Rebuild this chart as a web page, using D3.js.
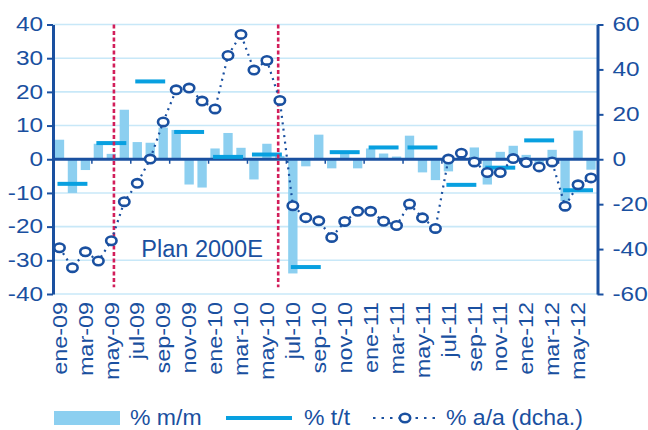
<!DOCTYPE html>
<html>
<head>
<meta charset="utf-8">
<script src="https://cdn.jsdelivr.net/npm/d3@7"></script>
<style>
  html, body { margin: 0; padding: 0; background: #fff; }
  svg { display: block; }
  text { font-family: "Liberation Sans", Arial, sans-serif; }
</style>
</head>
<body>
<svg id="chart" width="648" height="430"></svg>
<script>
// ---- Data ----
const months = ["ene-09","feb-09","mar-09","abr-09","may-09","jun-09","jul-09","ago-09","sep-09","oct-09","nov-09","dic-09",
  "ene-10","feb-10","mar-10","abr-10","may-10","jun-10","jul-10","ago-10","sep-10","oct-10","nov-10","dic-10",
  "ene-11","feb-11","mar-11","abr-11","may-11","jun-11","jul-11","ago-11","sep-11","oct-11","nov-11","dic-11",
  "ene-12","feb-12","mar-12","abr-12","may-12","jun-12"];

// % m/m (bars, left axis)
const mm = [5.8,-10.0,-3.2,4.6,1.6,14.7,5.1,4.9,9.4,8.7,-7.5,-8.4,
  3.2,7.8,3.4,-6.0,4.6,1.0,-33.9,-2.1,7.3,-2.7,1.6,-2.7,
  3.2,1.7,0.8,7.0,-3.9,-6.2,-3.6,1.0,3.5,-7.5,2.2,4.0,
  1.3,-1.5,2.8,-12.4,8.5,-3.1];

// % t/t (quarterly, left axis): first and last month of each quarter
const quarterStart = ["ene-09","abr-09","jul-09","oct-09","ene-10","abr-10","jul-10","oct-10","ene-11","abr-11","jul-11","oct-11","ene-12","abr-12"];
const quarterEnd   = ["mar-09","jun-09","sep-09","dic-09","mar-10","jun-10","sep-10","dic-10","mar-11","jun-11","sep-11","dic-11","mar-12","jun-12"];
const tt = [-7.3,4.8,23.1,8.1,0.7,1.4,-32.0,2.1,3.5,3.5,-7.6,-2.5,5.6,-9.2];

// % a/a (right axis)
const aa = [-39.4,-48.3,-41.2,-45.3,-36.3,-18.9,-10.7,0.1,16.6,30.9,31.7,25.9,
  22.4,46.2,55.6,39.7,44.0,26.2,-20.7,-26.0,-27.4,-34.8,-27.7,-23.2,
  -23.2,-27.6,-29.5,-19.9,-26.1,-30.8,0.1,2.7,-1.2,-5.9,-5.9,0.3,
  -1.5,-3.4,-1.2,-20.9,-11.4,-8.3];

const leftTicks = [-40,-30,-20,-10,0,10,20,30,40];
const rightTicks = [-60,-40,-20,0,20,40,60];
const xLabels = months.filter((d, i) => i % 2 === 0);
const xTickMonths = months.filter((d, i) => i > 0 && i % 3 === 0);

// annotations: vertical dashed lines (month + fraction of step) and label
const markerMonths = ["may-09","jun-10"];
const markerFrac = [0.7, 0.37];
const annotation = { text: "Plan 2000E", month: "dic-09", value: -29 };

const legendItems = ["% m/m", "% t/t", "% a/a (dcha.)"];

// ---- Colors ----
const C = {
  bar: "#8ccff0",
  tt: "#08a0e0",
  dark: "#1a50a0",
  grid: "#c8e8f8",
  red: "#d21e5a"
};

// ---- Layout ----
const L = 53, R = 597.5, T = 24.5, B = 294;

const svg = d3.select("#chart");

function stretch(sel, k) {
  sel.each(function () {
    const w = this.getComputedTextLength();
    this.setAttribute("textLength", w * k);
    this.setAttribute("lengthAdjust", "spacingAndGlyphs");
  });
}

const x = d3.scaleBand().domain(months).range([L, R]).paddingInner(0.28).paddingOuter(0.14);
const step = x.step();
const cx = m => x(m) + x.bandwidth() / 2;
const yL = d3.scaleLinear().domain([-40, 40]).range([B, T]);
const yR = d3.scaleLinear().domain([-60, 60]).range([B, T]);

// gridlines
svg.append("g").selectAll("line").data(leftTicks).join("line")
  .attr("x1", L).attr("x2", R)
  .attr("y1", d => yL(d)).attr("y2", d => yL(d))
  .attr("stroke", C.grid).attr("stroke-width", 1.6);

// bars
svg.append("g").selectAll("rect").data(months).join("rect")
  .attr("x", d => x(d))
  .attr("width", x.bandwidth())
  .attr("y", (d, i) => yL(Math.max(0, mm[i])))
  .attr("height", (d, i) => Math.abs(yL(mm[i]) - yL(0)))
  .attr("fill", C.bar);

// zero line with category ticks
svg.append("line").attr("x1", L).attr("x2", R)
  .attr("y1", yL(0)).attr("y2", yL(0))
  .attr("stroke", C.dark).attr("stroke-width", 3);
svg.append("g").selectAll("line").data(xTickMonths).join("line")
  .attr("x1", d => x(d) - (step - x.bandwidth()) / 2)
  .attr("x2", d => x(d) - (step - x.bandwidth()) / 2)
  .attr("y1", yL(0)).attr("y2", yL(0) + 4.5)
  .attr("stroke", C.dark).attr("stroke-width", 1.5);

// t/t quarterly segments
svg.append("g").selectAll("line").data(tt).join("line")
  .attr("x1", (d, i) => cx(quarterStart[i]))
  .attr("x2", (d, i) => cx(quarterEnd[i]))
  .attr("y1", d => yL(d)).attr("y2", d => yL(d))
  .attr("stroke", C.tt).attr("stroke-width", 4).attr("stroke-linecap", "square");

// red dashed markers
svg.append("g").selectAll("line").data(markerMonths).join("line")
  .attr("x1", (d, i) => x(d) - (step - x.bandwidth()) / 2 + markerFrac[i] * step)
  .attr("x2", (d, i) => x(d) - (step - x.bandwidth()) / 2 + markerFrac[i] * step)
  .attr("y1", yL(40)).attr("y2", yL(-38))
  .attr("stroke", C.red).attr("stroke-width", 2.6).attr("stroke-dasharray", "4,2.5");

// a/a dotted line
const line = d3.line().x((d, i) => cx(months[i])).y(d => yR(d));
svg.append("path").datum(aa)
  .attr("d", line)
  .attr("fill", "none").attr("stroke", C.dark).attr("stroke-width", 2.2)
  .attr("stroke-dasharray", "2,4.5");

svg.append("g").selectAll("ellipse").data(aa).join("ellipse")
  .attr("cx", (d, i) => cx(months[i]))
  .attr("cy", d => yR(d))
  .attr("rx", 5.2).attr("ry", 4.2)
  .attr("fill", "#fff").attr("stroke", C.dark).attr("stroke-width", 2.6);

// annotation text
svg.append("text")
  .attr("x", x(annotation.month) + x.bandwidth() / 2)
  .attr("y", yL(annotation.value))
  .attr("text-anchor", "middle")
  .attr("font-size", 23.5)
  .attr("fill", C.dark)
  .text(annotation.text);

// axes
function styleAxis(g) {
  g.select(".domain").attr("stroke", C.dark).attr("stroke-width", 3);
  g.selectAll(".tick line").attr("stroke", C.dark).attr("stroke-width", 2);
  g.selectAll(".tick text").attr("fill", C.dark).attr("font-size", 19.5)
    .attr("font-family", "'Liberation Sans', Arial, sans-serif")
    .call(stretch, 1.25);
}
svg.append("g").attr("transform", `translate(${L},0)`)
  .call(d3.axisLeft(yL).tickValues(leftTicks).tickSize(6).tickSizeOuter(0).tickPadding(4).tickFormat(d => String(d)))
  .call(styleAxis);
svg.append("g").attr("transform", `translate(${R},0)`)
  .call(d3.axisRight(yR).tickValues(rightTicks).tickSize(6).tickSizeOuter(0).tickPadding(9).tickFormat(d => String(d)))
  .call(styleAxis);

// x labels
svg.append("g").selectAll("text").data(xLabels).join("text")
  .attr("transform", d => `translate(${cx(d)},302) rotate(-90)`)
  .attr("text-anchor", "end")
  .attr("dy", "0.36em")
  .attr("font-size", 20)
  .attr("fill", C.dark)
  .text(d => d)
  .call(stretch, 1.17);

// legend
const lg = svg.append("g");
const ly = 418;
lg.append("rect").attr("x", 54).attr("y", 411).attr("width", 66).attr("height", 14).attr("fill", C.bar);
lg.append("line").attr("x1", 226).attr("x2", 292).attr("y1", ly).attr("y2", ly)
  .attr("stroke", C.tt).attr("stroke-width", 4);
lg.append("line").attr("x1", 373).attr("x2", 438).attr("y1", ly).attr("y2", ly)
  .attr("stroke", C.dark).attr("stroke-width", 2.2).attr("stroke-dasharray", "2.5,6");
lg.append("ellipse").attr("cx", 405).attr("cy", ly).attr("rx", 5.2).attr("ry", 4.2)
  .attr("fill", "#fff").attr("stroke", C.dark).attr("stroke-width", 2.6);
const legendX = [130, 304, 446];
lg.selectAll("text.lt").data(legendItems).join("text")
  .attr("class", "lt")
  .attr("x", (d, i) => legendX[i]).attr("y", 425)
  .attr("font-size", 21.5).attr("fill", C.dark)
  .text(d => d)
  .call(stretch, 1.07);
</script>
</body>
</html>
